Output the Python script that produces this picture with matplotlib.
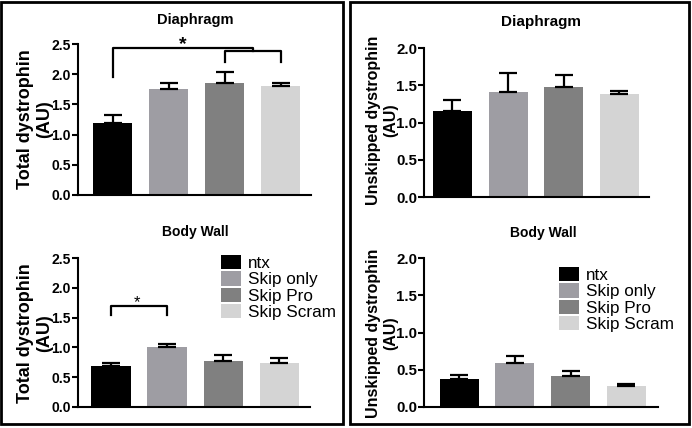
import matplotlib
matplotlib.use('Agg')
import matplotlib.pyplot as plt
from matplotlib.patches import Rectangle, Patch
import numpy as np

plt.rcParams['font.family'] = ['Liberation Sans', 'DejaVu Sans']

# data
groups = ['ntx', 'Skip only', 'Skip Pro', 'Skip Scram']
colors = ['#000000', '#9e9da3', '#808080', '#d4d4d4']

total_dia = [1.19, 1.75, 1.85, 1.81]
total_dia_err = [0.13, 0.11, 0.19, 0.04]
total_bw = [0.68, 1.01, 0.78, 0.74]
total_bw_err = [0.06, 0.05, 0.09, 0.08]

unsk_dia = [1.155, 1.415, 1.47, 1.38]
unsk_dia_err = [0.145, 0.255, 0.17, 0.04]
unsk_bw = [0.376, 0.595, 0.41, 0.28]
unsk_bw_err = [0.05, 0.095, 0.07, 0.025]

W, H = 692, 428
fig = plt.figure(figsize=(W / 100, H / 100), dpi=100)


def add_ax(x0, x1, ytop, ybot):
    return fig.add_axes([x0 / W, 1 - ybot / H, (x1 - x0) / W, (ybot - ytop) / H])


def draw_bars(ax, vals, errs, ymax, yticks, xlim, tick_fs):
    x = np.arange(len(vals))
    ax.bar(x, vals, width=0.7, color=colors)
    ax.errorbar(x, vals, yerr=[np.zeros(len(errs)), errs], fmt='none',
                ecolor='black', elinewidth=1.6, capsize=6.5, capthick=1.6)
    ax.set_ylim(0, ymax)
    ax.set_xlim(*xlim)
    ax.set_yticks(yticks)
    ax.set_yticklabels(['%.1f' % t for t in yticks], fontsize=tick_fs, fontweight='bold')
    ax.set_xticks([])
    for s in ['top', 'right']:
        ax.spines[s].set_visible(False)
    ax.spines['left'].set_linewidth(1.5)
    ax.spines['bottom'].set_linewidth(1.5)
    ax.spines['left'].set_bounds(0, ymax)
    ax.tick_params(axis='y', direction='out', length=4, width=1.5, pad=1)


# panel frames
fig.patches.append(Rectangle((1 / W, 1 - 424 / H), 342 / W, 422 / H, transform=fig.transFigure,
                             fill=False, edgecolor='black', linewidth=2))
fig.patches.append(Rectangle((350 / W, 1 - 424 / H), 339 / W, 422 / H, transform=fig.transFigure,
                             fill=False, edgecolor='black', linewidth=2))

# top left
ax1 = add_ax(78, 311, 44, 195)
draw_bars(ax1, total_dia, total_dia_err, 2.5, [0, 0.5, 1.0, 1.5, 2.0, 2.5], (-0.62, 3.54), 10)
ax1.plot([0, 0, 2.5, 2.5], [1.96, 2.44, 2.44, 2.38], color='black', lw=1.6, clip_on=False)
ax1.plot([2, 2, 3, 3], [2.2, 2.38, 2.38, 2.2], color='black', lw=1.6, clip_on=False)
ax1.text(1.25, 2.41, '*', ha='center', va='baseline', fontsize=14, fontweight='bold')
fig.text(195 / W, 1 - 20 / H, 'Diaphragm', ha='center', va='center', fontsize=10.5, fontweight='bold')
fig.text(35 / W, 1 - 119 / H, 'Total dystrophin\n(AU)', ha='center', va='center', rotation=90,
         fontsize=13, fontweight='bold', linespacing=1.1)

# bottom left
ax3 = add_ax(78, 310, 258, 407)
draw_bars(ax3, total_bw, total_bw_err, 2.5, [0, 0.5, 1.0, 1.5, 2.0, 2.5], (-0.59, 3.55), 10)
ax3.plot([0, 0, 1, 1], [1.54, 1.69, 1.69, 1.54], color='black', lw=1.6)
ax3.text(0.47, 1.67, '*', ha='center', va='baseline', fontsize=12)
fig.text(195 / W, 1 - 232 / H, 'Body Wall', ha='center', va='center', fontsize=10, fontweight='bold')
fig.text(35 / W, 1 - 333 / H, 'Total dystrophin\n(AU)', ha='center', va='center', rotation=90,
         fontsize=13, fontweight='bold', linespacing=1.1)

# top right
ax2 = add_ax(424, 649, 48, 197)
draw_bars(ax2, unsk_dia, unsk_dia_err, 2.0, [0, 0.5, 1.0, 1.5, 2.0], (-0.51, 3.53), 10.8)
fig.text(541 / W, 1 - 22 / H, 'Diaphragm', ha='center', va='center', fontsize=11, fontweight='bold')
fig.text(382 / W, 1 - 120 / H, 'Unskipped dystrophin\n(AU)', ha='center', va='center', rotation=90,
         fontsize=11.5, fontweight='bold', linespacing=1.15)

# bottom right
ax4 = add_ax(424, 658, 258, 407)
draw_bars(ax4, unsk_bw, unsk_bw_err, 2.0, [0, 0.5, 1.0, 1.5, 2.0], (-0.63, 3.57), 10.8)
fig.text(543 / W, 1 - 233 / H, 'Body Wall', ha='center', va='center', fontsize=10, fontweight='bold')
fig.text(382 / W, 1 - 333 / H, 'Unskipped dystrophin\n(AU)', ha='center', va='center', rotation=90,
         fontsize=11.5, fontweight='bold', linespacing=1.15)

handles = [Patch(facecolor=c, edgecolor='none') for c in colors]
for anchor in [(221, 255), (559, 267)]:
    fig.legend(handles, groups, loc='upper left', bbox_to_anchor=(anchor[0] / W, 1 - anchor[1] / H),
               frameon=False, fontsize=12.3, handlelength=1.15, handleheight=0.9,
               handletextpad=0.45, labelspacing=0.02, borderpad=0, borderaxespad=0)

fig.savefig('out.png', dpi=100)
